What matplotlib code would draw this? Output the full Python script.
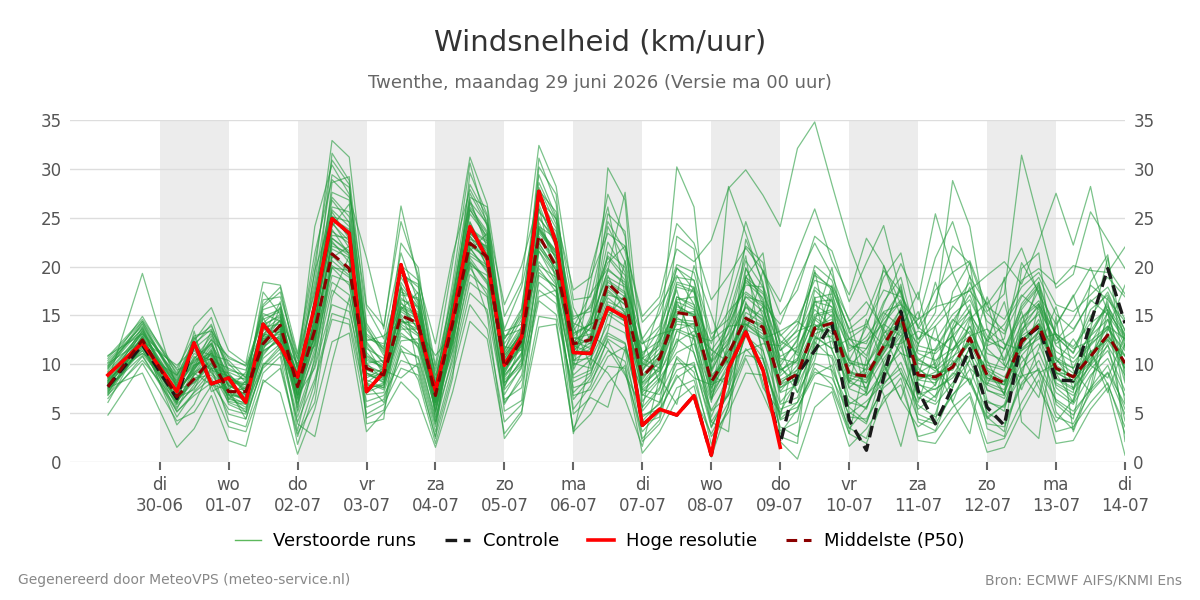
import matplotlib

matplotlib.use("Agg")

import matplotlib.pyplot as plt
import numpy as np

# time in days after 29-06 00:00
TIMES = [0.25, 0.75] + [1.25 + 0.25 * i for i in range(56)]

DAY_NAMES = ["di", "wo", "do", "vr", "za", "zo", "ma", "di", "wo", "do", "vr", "za", "zo", "ma", "di"]
DAY_DATES = ["30-06", "01-07", "02-07", "03-07", "04-07", "05-07", "06-07", "07-07",
             "08-07", "09-07", "10-07", "11-07", "12-07", "13-07", "14-07"]

hres = [
    8.9, 12.2, 7.2, 12.2, 8.0, 8.6, 6.1, 14.1, 11.9, 8.7,
    16.0, 24.9, 23.4, 7.2, 9.2, 20.2, 14.0, 7.3, 14.7, 24.1,
    20.8, 9.9, 12.8, 27.7, 22.4, 11.2, 11.1, 15.8, 14.8, 3.75,
    5.4, 4.8, 6.8, 0.7, 9.6, 13.3, 9.4, 1.5,
]

control = [
    7.7, 12.0, 6.5, 12.2, 8.0, 8.6, 6.1, 14.1, 11.9, 8.7,
    16.0, 24.9, 23.4, 7.2, 9.2, 20.2, 14.0, 7.3, 14.7, 24.1,
    20.8, 9.9, 12.8, 27.7, 22.4, 11.2, 11.1, 15.8, 14.8, 3.75,
    5.4, 4.8, 6.8, 0.7, 9.6, 13.3, 9.4, 1.9, 9.0, 11.4,
    14.2, 4.3, 1.2, 8.7, 15.4, 7.3, 3.9, 7.7, 11.6, 5.6,
    3.75, 12.5, 13.8, 8.4, 8.3, 14.2, 19.8, 14.2,
]

p50 = [
    7.7, 12.5, 6.7, 8.5, 10.5, 7.2, 7.2, 12.1, 14.0, 7.7,
    13.5, 21.3, 19.8, 9.6, 8.9, 15.0, 14.2, 6.8, 14.2, 22.4,
    21.0, 9.7, 12.5, 23.2, 20.0, 12.1, 12.5, 18.3, 16.6, 8.7,
    10.6, 15.3, 15.0, 8.2, 11.1, 14.7, 13.8, 8.0, 9.0, 13.7,
    14.2, 9.0, 8.8, 11.9, 15.0, 8.9, 8.7, 9.7, 12.7, 8.9,
    8.1, 12.3, 14.0, 9.6, 8.7, 10.8, 13.0, 10.1,
]

members = [
    [9.5, 14.2, 8.1, 12.4, 14.8, 9.2, 8.4, 15.6, 16.2, 9.8,
     18.5, 29.4, 28.1, 12.3, 10.1, 19.6, 17.2, 7.4, 16.8, 27.5,
     24.2, 11.5, 14.6, 28.6, 24.8, 13.2, 14.1, 22.5, 19.4, 7.6,
     9.8, 18.2, 17.5, 6.4, 12.3, 19.8, 16.5, 7.2, 9.5, 17.6,
     15.8, 8.4, 7.1, 13.6, 18.2, 9.7, 7.8, 12.4, 15.6, 7.3,
     6.8, 14.7, 16.2, 8.5, 7.4, 12.1, 15.3, 9.2],
    [6.5, 10.8, 5.2, 6.8, 8.1, 5.4, 4.9, 9.6, 11.2, 4.1,
     8.5, 15.2, 14.6, 6.2, 6.8, 10.4, 9.7, 3.1, 9.8, 17.3,
     15.6, 6.1, 8.4, 16.5, 15.1, 7.6, 8.2, 11.4, 10.3, 4.2,
     6.1, 9.4, 10.2, 3.5, 7.4, 13.1, 10.6, 4.3, 5.2, 10.1,
     9.4, 5.6, 4.1, 7.9, 10.2, 5.8, 4.6, 6.8, 9.5, 5.1,
     3.9, 8.1, 10.4, 6.2, 4.8, 7.6, 9.9, 5.4],
    [8.2, 19.3, 7.4, 9.1, 11.6, 7.9, 6.8, 13.1, 14.5, 8.4,
     12.8, 22.6, 20.4, 9.1, 8.2, 16.4, 13.5, 6.1, 12.6, 23.4,
     21.8, 10.2, 11.8, 24.5, 20.7, 11.4, 12.9, 17.6, 16.1, 9.4,
     11.2, 14.8, 13.6, 8.9, 10.4, 15.3, 14.2, 9.1, 11.5, 15.6,
     13.8, 10.2, 9.4, 11.5, 14.1, 10.6, 9.3, 10.8, 12.1, 9.6,
     8.7, 11.6, 13.2, 10.4, 9.1, 11.3, 12.5, 10.8],
    [7.9, 12.8, 6.3, 8.2, 10.1, 7.1, 7.6, 12.6, 13.8, 7.2,
     14.6, 23.8, 21.2, 10.8, 9.6, 15.8, 14.9, 7.2, 15.1, 23.8,
     22.4, 10.6, 13.4, 25.1, 22.3, 14.6, 15.8, 20.4, 22.1, 14.3,
     16.2, 21.8, 20.5, 22.7, 28.0, 29.9, 27.3, 24.1, 32.1, 34.8,
     28.4, 22.2, 17.5, 13.2, 14.2, 12.1, 14.5, 16.8, 17.5, 15.2,
     13.4, 18.6, 19.8, 18.2, 20.1, 19.6, 19.4, 22.0],
    [8.8, 13.1, 7.2, 10.5, 12.9, 8.5, 7.9, 14.2, 15.8, 6.5,
     16.1, 26.8, 24.5, 11.2, 9.3, 18.4, 15.6, 6.8, 15.9, 26.1,
     23.6, 10.9, 13.2, 26.9, 23.1, 12.4, 11.6, 16.8, 15.3, 8.1,
     10.4, 16.9, 15.8, 7.5, 11.8, 17.2, 15.9, 9.8, 12.6, 17.9,
     16.4, 11.3, 12.8, 15.4, 16.1, 12.5, 15.3, 28.8, 24.1, 13.6,
     10.5, 16.2, 18.4, 12.8, 11.2, 15.6, 17.1, 13.5],
    [10.2, 13.6, 6.9, 9.6, 13.4, 7.6, 6.2, 12.8, 16.4, 5.3,
     15.2, 31.6, 28.8, 8.4, 7.6, 20.1, 18.6, 4.2, 13.4, 29.6,
     25.3, 8.4, 10.1, 30.2, 27.4, 10.1, 9.6, 30.1, 26.8, 5.2,
     7.4, 13.5, 14.2, 4.6, 9.1, 22.8, 18.4, 6.1, 8.2, 14.6,
     13.1, 6.7, 5.4, 10.2, 13.4, 7.1, 6.2, 11.4, 14.8, 6.3,
     5.2, 13.1, 15.4, 7.6, 6.1, 10.4, 14.6, 8.1],
    [7.1, 11.9, 4.6, 7.2, 9.3, 6.1, 5.4, 11.3, 12.6, 3.2,
     10.8, 18.4, 17.1, 7.4, 8.1, 13.2, 11.8, 5.4, 12.1, 20.6,
     18.2, 7.4, 9.6, 19.8, 17.4, 8.9, 10.5, 14.1, 13.2, 6.8,
     8.6, 11.2, 12.1, 6.4, 9.3, 14.1, 12.8, 7.1, 7.9, 11.6,
     12.4, 7.5, 6.8, 9.4, 11.2, 6.9, 7.5, 8.6, 10.9, 7.4,
     6.5, 10.2, 12.1, 7.9, 6.8, 9.5, 11.4, 7.3],
    [6.1, 12.4, 3.8, 5.9, 9.7, 4.2, 3.6, 9.1, 10.8, 1.8,
     7.2, 21.4, 19.6, 4.5, 5.3, 11.6, 8.4, 1.9, 8.6, 24.2,
     19.8, 5.2, 6.3, 21.6, 18.3, 5.4, 7.8, 12.6, 11.4, 2.4,
     4.3, 10.8, 9.2, 1.8, 5.6, 16.4, 11.5, 3.2, 4.1, 12.3,
     10.6, 3.5, 2.4, 8.2, 12.6, 4.1, 3.2, 7.6, 11.8, 3.4,
     2.6, 9.2, 13.5, 5.1, 3.3, 8.6, 12.1, 4.2],
    [9.1, 12.2, 8.3, 11.1, 10.4, 9.6, 8.7, 13.6, 13.2, 9.1,
     13.8, 22.1, 21.4, 13.6, 11.2, 16.2, 15.1, 9.3, 14.8, 22.8,
     22.1, 13.4, 14.1, 23.6, 21.6, 14.2, 13.4, 17.1, 16.6, 11.2,
     12.4, 15.6, 15.1, 10.3, 12.6, 15.8, 14.6, 10.6, 10.1, 13.9,
     14.6, 10.4, 9.9, 12.6, 15.2, 11.1, 10.4, 11.6, 13.4, 10.2,
     9.6, 12.4, 14.2, 11.3, 10.2, 12.1, 13.6, 11.4],
    [8.4, 11.4, 5.9, 13.4, 7.2, 8.1, 6.6, 14.8, 11.4, 7.9,
     19.6, 25.2, 23.1, 9.9, 9.1, 14.2, 14.5, 7.4, 16.1, 24.6,
     20.4, 9.1, 12.1, 22.4, 19.6, 11.6, 13.8, 24.1, 20.5, 9.2,
     13.1, 19.8, 18.6, 9.4, 14.2, 20.6, 17.9, 8.8, 10.4, 16.1,
     14.9, 8.2, 9.6, 14.2, 16.4, 9.5, 8.4, 10.6, 13.9, 8.1,
     7.4, 11.8, 14.6, 9.2, 8.1, 10.9, 13.8, 9.6],
    [7.4, 13.5, 6.2, 8.9, 11.2, 6.4, 8.3, 16.1, 17.9, 9.6,
     24.1, 30.4, 27.4, 15.8, 12.6, 21.4, 16.3, 8.2, 17.6, 28.4,
     25.1, 12.6, 15.7, 28.1, 24.3, 12.8, 12.1, 18.6, 17.4, 10.1,
     9.2, 12.3, 13.4, 11.5, 10.2, 11.4, 12.1, 11.9, 13.4, 14.1,
     12.6, 9.8, 11.6, 15.3, 13.8, 10.4, 11.6, 14.6, 13.1, 8.6,
     7.9, 13.4, 16.2, 12.1, 13.4, 16.6, 15.1, 12.4],
    [10.8, 14.6, 9.4, 10.2, 12.5, 10.8, 9.8, 13.4, 14.8, 10.6,
     17.4, 26.1, 25.6, 13.1, 11.8, 17.1, 16.8, 8.9, 13.8, 25.8,
     23.4, 11.8, 11.4, 24.9, 22.8, 13.8, 17.2, 19.8, 18.1, 12.6,
     15.2, 20.2, 19.4, 13.1, 14.6, 18.4, 16.8, 11.4, 13.6, 20.1,
     18.6, 13.2, 14.1, 17.6, 16.9, 13.8, 12.4, 15.1, 16.6, 12.9,
     11.5, 14.8, 16.5, 13.1, 11.8, 14.2, 15.6, 12.6],
    [7.6, 9.1, 1.5, 3.4, 6.8, 2.2, 1.6, 8.4, 7.1, 0.8,
     5.4, 12.3, 13.2, 3.1, 5.1, 8.2, 6.4, 1.5, 7.2, 14.4,
     12.6, 2.9, 5.2, 13.8, 14.1, 3.4, 6.9, 9.8, 9.6, 0.9,
     3.1, 6.4, 7.8, 0.5, 5.8, 13.6, 8.1, 2.1, 0.3, 5.6,
     7.2, 1.6, 3.4, 6.1, 8.6, 2.2, 1.9, 4.6, 6.7, 1.0,
     1.5, 5.2, 8.4, 1.9, 2.2, 5.4, 7.6, 0.7],
    [8.1, 12.9, 7.6, 10.8, 9.4, 8.8, 7.1, 12.4, 13.9, 8.9,
     14.2, 24.4, 22.6, 10.4, 9.8, 17.8, 13.9, 6.5, 13.1, 21.9,
     19.4, 9.9, 12.8, 22.1, 19.2, 10.6, 14.6, 19.1, 15.1, 7.1,
     9.1, 16.1, 14.9, 8.6, 11.4, 14.2, 13.1, 7.6, 9.1, 13.4,
     15.1, 9.4, 8.1, 12.1, 15.8, 8.4, 9.2, 9.4, 12.4, 9.4,
     8.3, 12.9, 14.1, 9.9, 8.7, 10.2, 12.8, 10.9],
    [9.8, 14.1, 7.9, 12.8, 9.1, 7.4, 9.2, 15.2, 14.4, 6.9,
     13.1, 28.6, 29.2, 14.2, 11.4, 19.1, 18.2, 8.6, 16.4, 27.1,
     26.1, 11.2, 13.9, 27.8, 25.6, 15.8, 12.4, 21.5, 19.9, 9.9,
     12.1, 30.2, 26.1, 9.1, 13.3, 18.9, 17.4, 12.4, 11.2, 16.8,
     17.2, 12.1, 10.6, 14.9, 17.6, 9.1, 10.1, 13.6, 15.4, 11.6,
     9.9, 15.6, 17.9, 10.7, 9.6, 13.4, 16.1, 11.8],
    [8.6, 11.1, 6.6, 9.9, 12.1, 6.9, 6.4, 11.8, 12.9, 7.5,
     12.2, 20.6, 19.1, 8.9, 8.4, 14.6, 13.1, 6.2, 14.1, 23.1,
     21.1, 8.8, 11.2, 23.8, 20.8, 11.9, 11.2, 15.9, 14.4, 8.4,
     10.9, 14.1, 13.9, 8.1, 10.7, 16.2, 14.4, 9.4, 10.6, 14.8,
     13.6, 10.4, 13.8, 18.9, 21.4, 13.6, 16.4, 22.1, 20.3, 15.4,
     17.2, 31.4, 24.6, 17.8, 19.2, 25.6, 22.7, 19.8],
    [7.2, 12.6, 5.6, 7.9, 10.8, 5.9, 5.1, 10.6, 12.1, 5.9,
     11.6, 19.1, 18.4, 6.9, 7.1, 12.4, 12.6, 5.8, 11.4, 19.2,
     17.6, 7.8, 10.6, 20.5, 18.1, 8.2, 9.1, 13.2, 12.2, 5.6,
     7.6, 12.6, 11.2, 5.3, 8.2, 12.9, 11.4, 5.9, 6.6, 11.1,
     10.9, 6.1, 5.6, 9.1, 11.9, 6.6, 5.9, 8.1, 10.4, 6.1,
     5.6, 9.6, 11.2, 7.1, 5.9, 8.9, 10.6, 6.8],
    [10.4, 13.9, 8.6, 11.9, 14.1, 8.9, 7.4, 17.4, 15.1, 5.6,
     17.1, 27.6, 26.8, 10.1, 10.4, 15.6, 17.4, 4.9, 15.3, 26.5,
     22.8, 7.6, 12.4, 26.4, 21.9, 9.6, 18.4, 27.4, 23.1, 6.2,
     8.4, 23.1, 21.8, 6.9, 16.1, 22.1, 20.4, 10.2, 12.4, 19.4,
     17.6, 7.6, 9.2, 20.1, 14.8, 6.4, 7.9, 17.4, 20.4, 9.4,
     6.9, 19.8, 21.4, 8.1, 7.1, 18.4, 21.2, 8.4],
    [6.9, 10.4, 6.1, 8.6, 8.9, 6.8, 5.9, 9.8, 11.6, 6.8,
     9.6, 16.1, 15.4, 8.1, 6.1, 11.3, 10.8, 4.6, 10.4, 18.4,
     16.9, 6.4, 7.6, 17.6, 16.2, 6.8, 7.4, 10.8, 11.8, 4.8,
     5.4, 8.6, 9.8, 5.2, 6.8, 11.6, 9.6, 5.4, 6.1, 9.2,
     8.6, 4.9, 6.2, 8.1, 9.6, 5.4, 6.8, 9.1, 8.4, 4.6,
     5.8, 8.8, 9.4, 6.4, 5.2, 7.4, 9.2, 5.9],
    [8.9, 11.8, 7.1, 9.4, 11.9, 8.2, 7.9, 12.9, 12.4, 3.9,
     2.6, 10.2, 16.8, 8.1, 9.4, 8.6, 10.1, 3.6, 13.6, 20.1,
     19.1, 6.9, 9.8, 16.9, 17.6, 4.9, 6.6, 5.6, 11.6, 7.4,
     6.9, 10.6, 8.6, 7.9, 8.8, 13.9, 7.6, 5.1, 8.4, 12.8,
     11.6, 5.9, 7.1, 13.1, 9.1, 6.1, 11.4, 12.9, 9.6, 7.9,
     11.6, 15.4, 9.1, 10.1, 12.6, 9.9, 8.6, 12.9],
    [9.3, 13.3, 7.8, 10.1, 12.2, 8.4, 8.1, 13.8, 14.1, 8.1,
     15.6, 23.2, 22.9, 11.6, 10.6, 16.8, 15.3, 7.9, 14.6, 24.5,
     21.3, 10.4, 12.9, 24.1, 21.3, 12.3, 13.7, 18.4, 17.2, 9.8,
     11.6, 16.4, 15.6, 10.2, 12.1, 16.9, 15.4, 10.8, 11.8, 15.1,
     15.6, 11.6, 12.4, 14.1, 12.9, 14.6, 15.9, 16.4, 17.6, 19.1,
     20.5, 18.2, 22.6, 27.5, 22.2, 28.2, 19.8, 17.2],
    [8.3, 12.1, 6.8, 9.9, 10.9, 7.8, 6.9, 11.9, 13.4, 7.9,
     13.4, 21.8, 20.9, 9.4, 8.7, 15.4, 14.2, 6.9, 13.9, 22.6,
     20.6, 9.6, 11.6, 22.9, 20.2, 11.1, 12.2, 17.9, 16.4, 8.8,
     10.1, 15.1, 15.4, 8.3, 11.1, 14.9, 13.6, 8.4, 9.4, 13.9,
     14.1, 9.1, 8.6, 11.6, 14.6, 8.8, 8.4, 9.6, 12.8, 8.6,
     8.2, 12.1, 13.8, 9.4, 8.6, 10.6, 12.9, 10.2],
    [7.8, 12.3, 7.3, 9.2, 10.2, 7.4, 6.1, 12.2, 14.6, 8.6,
     13.9, 24.9, 23.8, 8.6, 9.6, 15.1, 13.1, 6.4, 14.9, 23.6,
     21.9, 10.1, 13.6, 23.4, 21.4, 11.8, 14.4, 19.6, 27.6, 10.6,
     9.6, 16.6, 16.9, 9.6, 28.2, 23.4, 18.1, 13.1, 10.9, 16.4,
     15.9, 12.6, 10.9, 16.1, 20.3, 16.6, 25.4, 19.4, 15.1, 12.4,
     14.1, 17.1, 15.6, 12.4, 14.6, 18.1, 16.6, 14.4],
    [7.0, 12.9, 5.9, 7.6, 9.6, 7.1, 6.4, 10.9, 13.1, 6.1,
     12.6, 19.9, 19.6, 7.6, 7.9, 13.6, 13.6, 5.6, 12.9, 21.1,
     19.9, 8.6, 11.1, 21.6, 19.1, 10.4, 10.6, 15.4, 14.4, 7.4,
     8.9, 13.4, 12.6, 7.1, 9.6, 13.6, 12.6, 7.6, 8.6, 12.6,
     12.9, 8.1, 7.6, 10.6, 12.9, 7.9, 7.4, 8.9, 11.6, 7.9,
     7.1, 10.9, 12.9, 8.6, 7.6, 9.9, 11.9, 8.9],
    [9.9, 14.9, 8.9, 12.1, 13.6, 9.4, 8.9, 15.9, 17.4, 10.4,
     19.4, 32.9, 31.2, 16.1, 13.9, 24.6, 19.1, 9.9, 20.4, 31.2,
     26.4, 14.9, 18.4, 32.4, 28.2, 16.6, 16.9, 24.6, 21.6, 12.1,
     13.9, 19.9, 17.6, 11.4, 13.9, 18.6, 17.2, 12.9, 14.6, 18.6,
     17.9, 13.6, 15.1, 19.6, 17.4, 12.6, 13.9, 15.9, 18.4, 14.4,
     13.1, 16.9, 18.9, 15.1, 13.6, 16.4, 17.9, 14.6],
    [8.0, 11.6, 6.4, 8.4, 10.1, 6.6, 5.6, 11.1, 12.8, 6.9,
     12.1, 22.9, 21.6, 8.1, 7.4, 14.1, 12.9, 5.1, 12.4, 21.4,
     20.1, 8.9, 10.9, 21.9, 19.9, 9.9, 10.9, 16.4, 15.6, 7.9,
     9.4, 14.4, 14.1, 7.6, 10.4, 14.6, 14.1, 7.9, 8.9, 13.6,
     13.4, 8.6, 8.1, 11.1, 14.4, 8.4, 8.1, 9.9, 12.1, 8.4,
     7.9, 11.4, 13.4, 9.1, 8.3, 10.1, 12.4, 9.6],
    [9.6, 13.7, 8.4, 11.6, 13.1, 9.9, 9.4, 14.6, 15.4, 7.6,
     16.6, 25.8, 24.1, 12.6, 12.1, 18.9, 16.1, 7.1, 15.6, 25.4,
     23.1, 12.1, 14.9, 25.6, 23.6, 13.4, 16.1, 20.9, 18.6, 10.9,
     13.6, 18.9, 18.6, 12.6, 15.4, 17.4, 16.1, 14.1, 18.6, 22.4,
     19.1, 14.4, 16.4, 13.6, 11.1, 10.4, 9.6, 13.9, 17.9, 11.9,
     12.6, 20.4, 17.4, 10.6, 8.1, 13.1, 15.9, 13.1],
    [4.8, 10.1, 4.2, 5.1, 7.8, 3.6, 3.1, 8.1, 9.6, 2.6,
     8.1, 14.6, 14.1, 4.9, 5.9, 9.6, 8.9, 2.6, 9.1, 16.1,
     13.6, 4.1, 5.9, 14.9, 14.6, 3.1, 4.9, 8.1, 9.9, 2.1,
     3.9, 7.6, 8.4, 2.6, 5.1, 9.1, 8.9, 3.6, 2.6, 8.1,
     7.6, 2.9, 1.9, 6.6, 7.9, 2.6, 3.1, 5.6, 7.1, 1.9,
     2.4, 6.1, 9.1, 3.1, 3.6, 6.1, 8.1, 2.9],
    [10.6, 14.4, 9.1, 13.9, 15.8, 11.4, 10.1, 18.4, 18.1, 11.1,
     21.4, 28.9, 27.1, 20.9, 13.6, 26.2, 18.6, 12.1, 21.2, 27.9,
     24.6, 16.1, 20.1, 26.9, 24.9, 17.6, 18.9, 23.4, 22.1, 14.9,
     16.9, 24.4, 22.4, 16.6, 19.1, 21.9, 19.6, 15.1, 17.6, 23.1,
     21.6, 16.4, 20.4, 24.2, 17.1, 13.9, 17.6, 19.4, 20.6, 15.9,
     14.6, 17.9, 19.4, 16.1, 15.4, 17.1, 18.9, 16.9],
    [8.5, 12.7, 7.0, 9.7, 11.4, 7.7, 7.3, 12.9, 13.6, 8.1,
     13.6, 22.4, 21.1, 9.6, 9.2, 15.6, 14.6, 7.1, 14.4, 22.2,
     20.9, 10.1, 12.4, 23.1, 20.4, 11.9, 12.6, 18.1, 16.9, 8.6,
     10.6, 15.4, 14.9, 8.1, 11.4, 14.6, 13.9, 8.2, 9.1, 13.8,
     14.3, 9.2, 8.9, 11.9, 14.9, 9.0, 8.8, 9.8, 12.7, 9.0,
     8.2, 12.4, 14.1, 9.7, 8.8, 10.9, 13.1, 10.2],
    [7.9, 13.8, 6.1, 9.4, 12.6, 6.2, 5.9, 13.9, 15.1, 6.6,
     14.1, 25.6, 22.8, 9.1, 8.1, 13.9, 12.1, 5.2, 11.6, 23.9,
     22.6, 13.6, 17.9, 26.1, 18.4, 9.4, 13.1, 11.6, 8.9, 5.6,
     12.9, 17.6, 11.1, 6.1, 14.9, 21.1, 10.4, 4.6, 12.1, 19.6,
     11.4, 8.1, 14.6, 10.1, 6.4, 11.9, 18.4, 13.1, 7.9, 12.6,
     16.4, 9.1, 6.6, 13.9, 17.1, 11.4, 7.1, 12.1],
    [9.2, 11.1, 8.9, 11.4, 9.6, 9.1, 7.1, 11.4, 15.9, 9.4,
     12.6, 24.1, 26.4, 13.9, 10.9, 17.4, 16.6, 6.1, 16.6, 26.9,
     21.9, 11.4, 15.6, 29.4, 25.1, 13.9, 9.9, 13.4, 20.6, 12.6,
     8.1, 11.9, 20.1, 15.1, 9.9, 13.1, 19.6, 11.9, 7.1, 12.4,
     18.1, 14.6, 8.6, 11.1, 13.6, 17.4, 9.9, 6.1, 10.6, 16.9,
     12.1, 7.4, 11.6, 15.9, 9.4, 7.1, 13.6, 18.1],
    [6.8, 12.1, 5.1, 7.1, 8.6, 4.9, 4.4, 9.9, 11.9, 4.6,
     9.9, 17.6, 16.1, 5.6, 6.4, 11.9, 10.6, 3.9, 10.9, 19.9,
     17.1, 5.9, 8.9, 18.4, 16.9, 6.4, 8.6, 12.4, 9.1, 3.1,
     5.1, 8.9, 6.6, 2.9, 6.1, 10.6, 6.9, 2.9, 5.4, 9.6,
     7.9, 3.4, 5.6, 9.9, 6.4, 3.6, 4.9, 10.4, 8.1, 4.4,
     5.9, 10.9, 7.6, 4.1, 6.4, 11.4, 7.9, 3.6],
    [8.7, 13.2, 7.7, 10.4, 11.1, 8.6, 7.4, 12.6, 13.1, 7.4,
     14.9, 24.6, 21.9, 10.9, 9.9, 16.6, 15.9, 7.6, 15.4, 23.1,
     20.1, 10.9, 13.1, 22.6, 21.1, 11.1, 14.9, 25.4, 23.6, 6.9,
     6.1, 14.9, 17.9, 8.9, 7.9, 18.9, 21.4, 9.6, 8.1, 14.4,
     19.9, 10.6, 7.4, 13.9, 17.9, 8.1, 6.6, 12.9, 19.1, 10.4,
     6.9, 13.1, 18.4, 9.1, 6.1, 13.6, 20.9, 11.9],
    [10.1, 12.4, 9.9, 11.6, 10.9, 10.4, 8.6, 13.1, 12.6, 10.1,
     11.9, 20.1, 18.9, 12.4, 12.9, 14.4, 13.6, 10.9, 13.1, 20.9,
     18.4, 12.9, 13.6, 20.1, 18.9, 13.1, 14.1, 15.1, 13.9, 12.1,
     13.1, 13.6, 12.9, 12.4, 13.9, 14.1, 12.6, 13.4, 14.4, 12.9,
     11.6, 12.6, 13.9, 11.9, 12.1, 13.4, 12.6, 11.4, 12.9, 13.6,
     12.1, 11.4, 12.6, 13.1, 11.6, 12.4, 13.9, 12.6],
    [7.3, 11.7, 6.6, 7.4, 11.4, 6.9, 5.1, 12.1, 14.1, 5.1,
     10.4, 20.9, 22.1, 7.1, 7.9, 14.9, 11.6, 4.1, 12.6, 21.6,
     23.4, 8.1, 10.4, 24.1, 22.9, 7.1, 8.9, 14.9, 17.1, 3.9,
     4.6, 16.4, 12.6, 3.6, 7.1, 19.1, 14.9, 4.4, 6.1, 11.9,
     16.9, 5.1, 3.9, 9.6, 14.1, 4.9, 4.1, 13.6, 16.1, 4.6,
     3.1, 14.1, 17.6, 5.9, 4.4, 12.9, 16.4, 6.1],
    [9.0, 13.4, 8.8, 12.6, 13.9, 10.1, 8.1, 16.6, 16.9, 10.9,
     20.4, 30.9, 28.4, 11.9, 8.9, 22.4, 19.9, 7.9, 18.4, 30.6,
     24.1, 9.4, 12.1, 31.1, 26.4, 11.4, 19.6, 26.1, 17.1, 10.4,
     15.9, 19.1, 16.1, 12.1, 17.4, 24.6, 19.4, 16.4, 21.4, 25.9,
     20.6, 17.1, 22.9, 20.1, 16.1, 14.6, 20.9, 24.6, 18.9, 16.1,
     18.6, 21.9, 17.1, 14.1, 16.9, 19.9, 15.4, 12.9],
    [8.3, 12.2, 7.4, 8.1, 9.9, 7.9, 6.9, 12.4, 13.4, 8.4,
     12.9, 21.1, 19.4, 9.1, 8.6, 14.4, 14.1, 6.6, 13.4, 21.9,
     19.6, 9.4, 11.9, 22.4, 19.6, 10.9, 11.9, 17.4, 16.1, 8.9,
     10.9, 15.9, 15.1, 7.9, 10.9, 14.4, 13.4, 7.9, 9.9, 13.1,
     13.9, 8.9, 8.4, 11.4, 14.9, 8.6, 8.9, 10.1, 12.4, 8.9,
     7.9, 12.6, 13.9, 9.1, 8.9, 11.1, 12.6, 9.9],
    [7.6, 10.9, 5.4, 9.1, 7.9, 7.4, 4.4, 10.1, 9.9, 2.9,
     6.1, 16.9, 21.1, 3.9, 4.4, 18.1, 9.4, 2.4, 16.9, 20.4,
     15.1, 2.4, 4.9, 19.1, 17.9, 2.9, 10.6, 9.1, 6.4, 1.6,
     8.6, 5.9, 13.1, 4.1, 3.1, 19.9, 16.1, 2.6, 1.9, 16.9,
     9.1, 2.9, 10.6, 6.9, 1.6, 8.9, 13.9, 6.1, 2.9, 11.9,
     18.9, 4.1, 2.4, 14.9, 3.1, 7.6, 15.6, 2.1],
    [9.7, 14.4, 8.1, 10.6, 12.1, 8.9, 7.6, 14.1, 14.9, 8.9,
     16.1, 25.1, 24.6, 12.1, 10.1, 17.9, 15.9, 7.9, 15.9, 25.9,
     22.6, 11.1, 13.6, 25.9, 22.6, 12.9, 14.1, 19.6, 18.4, 10.1,
     12.4, 17.9, 17.4, 10.9, 13.1, 16.9, 16.4, 11.4, 12.9, 16.4,
     16.6, 11.9, 11.6, 14.6, 16.6, 11.4, 11.1, 12.9, 14.9, 11.1,
     10.4, 14.1, 15.9, 11.9, 10.6, 12.9, 14.6, 11.6],
    [8.1, 12.4, 7.9, 9.9, 10.6, 6.9, 6.6, 11.6, 13.6, 7.1,
     12.9, 22.9, 21.4, 10.1, 8.4, 15.9, 13.6, 6.1, 12.9, 22.1,
     20.9, 9.1, 12.6, 23.9, 21.1, 10.4, 11.6, 16.1, 15.1, 8.1,
     9.6, 14.6, 14.4, 6.6, 10.1, 13.9, 15.9, 9.9, 7.1, 10.4,
     17.6, 13.6, 6.9, 8.6, 12.4, 15.4, 9.6, 7.6, 14.6, 16.4,
     9.9, 8.6, 16.1, 13.1, 7.4, 9.9, 16.9, 12.9],
    [10.9, 13.1, 9.6, 12.9, 13.4, 10.6, 9.9, 14.9, 15.6, 9.6,
     17.9, 27.1, 25.1, 12.9, 11.6, 19.4, 17.9, 9.6, 17.1, 26.6,
     24.4, 12.6, 15.1, 27.1, 23.9, 14.9, 15.4, 21.1, 19.1, 10.6,
     11.9, 18.4, 17.9, 10.4, 13.9, 18.1, 17.9, 12.1, 14.1, 19.1,
     17.9, 12.6, 12.1, 16.4, 18.9, 11.9, 11.4, 14.4, 17.1, 12.4,
     11.6, 15.9, 18.1, 12.9, 11.1, 14.9, 17.4, 13.4],
    [7.5, 11.4, 6.4, 8.9, 10.4, 6.4, 6.1, 11.4, 12.4, 6.4,
     11.1, 19.9, 18.1, 7.9, 7.6, 12.9, 12.1, 5.9, 12.1, 20.4,
     18.6, 8.1, 9.9, 19.4, 17.9, 8.6, 9.4, 12.9, 12.1, 4.6,
     5.9, 10.1, 9.9, 4.1, 6.9, 10.9, 10.6, 4.9, 5.6, 8.9,
     9.9, 4.6, 4.4, 7.6, 9.1, 4.4, 3.9, 6.9, 8.6, 3.9,
     3.6, 7.9, 9.6, 4.6, 3.9, 7.1, 9.1, 4.9],
    [8.6, 12.6, 7.1, 9.6, 11.1, 8.4, 8.6, 12.9, 14.4, 8.6,
     14.4, 23.6, 22.4, 10.6, 9.6, 15.9, 15.1, 7.6, 14.9, 23.4,
     21.6, 10.6, 13.1, 23.9, 21.6, 12.6, 13.1, 18.9, 17.9, 9.6,
     11.1, 16.9, 16.1, 9.4, 12.4, 15.9, 14.9, 9.4, 10.4, 14.9,
     15.4, 10.1, 9.9, 13.1, 15.6, 10.1, 9.6, 11.4, 13.9, 9.9,
     9.4, 13.6, 15.1, 10.4, 9.6, 11.9, 13.9, 10.9],
]

for i, m in enumerate(members):
    if len(m) != len(TIMES):
        raise ValueError(f"member {i} has {len(m)} values")

t = np.asarray(TIMES)
fig = plt.figure(figsize=(12, 6), dpi=100)
ax = fig.add_axes([70 / 1200, 1 - 462 / 600, 1055 / 1200, 342 / 600])

# shaded alternate days
for day in range(1, 15, 2):
    ax.axvspan(day, day + 1, color="#ececec", lw=0, zorder=0)

for m in members:
    ax.plot(t, m, color="#249b3d", lw=0.9, alpha=0.6, zorder=2)

ax.plot(t, control, color="#1a1a1a", lw=2.4, ls=(0, (3.5, 2)), zorder=3)
ax.plot(t[:len(hres)], hres, color="#ff0000", lw=2.6, zorder=4)
ax.plot(t, p50, color="#8b0000", lw=2.2, ls=(0, (3.5, 2.2)), zorder=5)

ax.set_xlim(-0.3, 15)
ax.set_ylim(0, 35)
ax.set_yticks(np.arange(0, 36, 5))
ax.grid(axis="y", color="#dddddd", lw=1, zorder=1)
ax.set_axisbelow(True)
for s in ax.spines.values():
    s.set_visible(False)

ax.set_xticks(np.arange(1, 16))
ax.set_xticklabels([f"{n}\n{d}" for n, d in zip(DAY_NAMES, DAY_DATES)])
ax.tick_params(axis="x", length=6, width=1.5, color="#666666", labelcolor="#555555",
               labelsize=12, pad=4)
ax.tick_params(axis="y", length=0, labelcolor="#555555", labelsize=12,
               labelleft=True, labelright=True, pad=6)

fig.text(0.5, 1 - 42 / 600, "Windsnelheid (km/uur)", ha="center", va="center",
         fontsize=21, color="#333333")
fig.text(0.5, 1 - 83 / 600, "Twenthe, maandag 29 juni 2026 (Versie ma 00 uur)",
         ha="center", va="center", fontsize=13, color="#666666")

handles = [
    plt.Line2D([], [], color="#5cb85c", lw=1),
    plt.Line2D([], [], color="#1a1a1a", lw=2.4, ls=(0, (3.5, 2))),
    plt.Line2D([], [], color="#ff0000", lw=2.6),
    plt.Line2D([], [], color="#8b0000", lw=2.2, ls=(0, (3.5, 2.2))),
]
labels = ["Verstoorde runs", "Controle", "Hoge resolutie", "Middelste (P50)"]
fig.legend(handles, labels, loc="center", bbox_to_anchor=(0.5, 1 - 541 / 600), ncol=4,
           frameon=False, fontsize=13, handlelength=1.4, handletextpad=0.7,
           columnspacing=1.6)

fig.text(18 / 1200, 1 - 580 / 600, "Gegenereerd door MeteoVPS (meteo-service.nl)",
         ha="left", va="center", fontsize=10, color="#888888")
fig.text(1182 / 1200, 1 - 580 / 600, "Bron: ECMWF AIFS/KNMI Ens",
         ha="right", va="center", fontsize=10, color="#888888")

fig.savefig("out.png", dpi=100)
